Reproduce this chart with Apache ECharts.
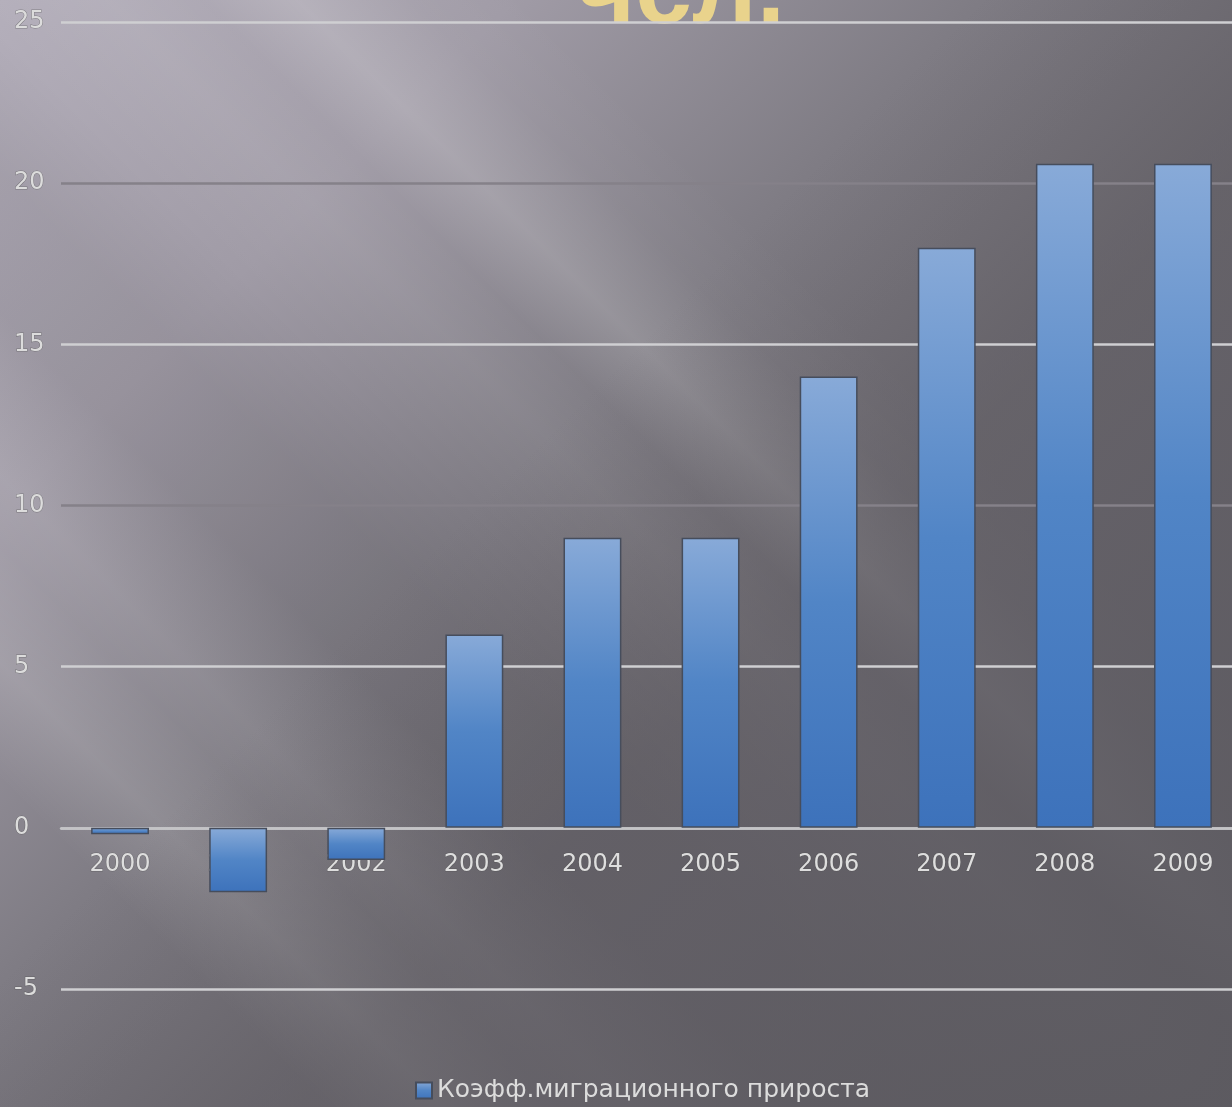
<!DOCTYPE html>
<html>
<head>
<meta charset="utf-8">
<script src="https://cdn.jsdelivr.net/npm/echarts@6/dist/echarts.min.js"></script>
<style>
html,body{margin:0;padding:0;width:1232px;height:1107px;overflow:hidden;}
body{
  background:
    linear-gradient(135deg, rgba(98,95,102,0) 0%, rgba(98,95,102,0) 42%, rgba(98,95,102,0.75) 68%, rgba(92,90,96,0.95) 100%),
    linear-gradient(45deg,
      rgba(255,255,255,0) 0%,
      rgba(255,255,255,0) 14%,
      rgba(255,255,255,0.13) 19%,
      rgba(255,255,255,0.05) 24%,
      rgba(255,255,255,0.08) 27%,
      rgba(0,0,0,0.06) 34%,
      rgba(0,0,0,0.06) 40%,
      rgba(255,255,255,0) 46%,
      rgba(255,255,255,0.06) 52%,
      rgba(255,255,255,0.02) 56%,
      rgba(255,255,255,0.16) 60%,
      rgba(255,255,255,0.03) 65%,
      rgba(255,255,255,0) 70%,
      rgba(255,255,255,0) 100%),
    linear-gradient(135deg, #b4afbb 0%, #a09ba6 22%, #7f7c84 42%, #6a676d 60%, #5c5a5f 100%);
}
#chart{width:1232px;height:1107px;}
</style>
</head>
<body>
<div id="chart"></div>
<script>
var categories = ['2000','2001','2002','2003','2004','2005','2006','2007','2008','2009'];
var values = [-0.2, -2, -1, 6, 9, 9, 14, 18, 20.6, 20.6];
var seriesName = 'Коэфф.миграционного прироста';
var titleText = 'чсл.';
var yMin = -5, yMax = 25, yInterval = 5;

var gridTop = 22, gridBottom = 118, chartH = 1107;
var plotH = chartH - gridTop - gridBottom;
// place the category axis at the value 0 (distance from the bottom edge of the grid)
var zeroOffset = -plotH * (0 - yMin) / (yMax - yMin);

var chart = echarts.init(document.getElementById('chart'), null, {renderer:'canvas'});
var barGrad = new echarts.graphic.LinearGradient(0,0,0,1,[
  {offset:0,color:'#88aad8'},
  {offset:0.5,color:'#5185c6'},
  {offset:1,color:'#3d72bb'}
]);
var light = '#cfcfd2', dark = '#858189';
chart.setOption({
  backgroundColor:'transparent',
  animation:false,
  graphic:[{
    type:'text', z:-10, left:576, top:-56,
    style:{text:titleText, fill:'#e9d38c', font:'bold 102px "Liberation Sans"'}
  }],
  grid:{left:61, width:1181, top:gridTop, bottom:gridBottom, containLabel:false, outerBoundsMode:'none'},
  legend:{
    top:1073, left:410, itemWidth:16, itemHeight:16, itemGap:6,
    icon:'rect',
    textStyle:{color:'#dcdcdc', fontSize:25, fontFamily:'DejaVu Sans'},
    data:[seriesName]
  },
  xAxis:{
    type:'category', data:categories, position:'bottom', offset:zeroOffset,
    axisLine:{show:true, onZero:false, lineStyle:{color:'#c4c4c6', width:2.5}},
    axisTick:{show:false},
    axisLabel:{color:'#dedede', fontSize:24, fontFamily:'DejaVu Sans', margin:25,
      textBorderColor:'rgba(80,80,80,0.5)', textBorderWidth:1}
  },
  yAxis:{
    type:'value', min:yMin, max:yMax, interval:yInterval,
    axisLine:{show:false}, axisTick:{show:false},
    axisLabel:{color:'#dcdcdc', fontSize:24, fontFamily:'DejaVu Sans', align:'left', margin:47,
      textBorderColor:'rgba(80,80,80,0.5)', textBorderWidth:1},
    splitLine:{lineStyle:{color:[light, light, light, dark, light, dark, light], width:2.5}}
  },
  series:[{
    name:seriesName, type:'bar', data:values, barWidth:'49%',
    itemStyle:{color:barGrad, borderColor:'#464d5c', borderWidth:1.5}
  }]
});
</script>
</body>
</html>
